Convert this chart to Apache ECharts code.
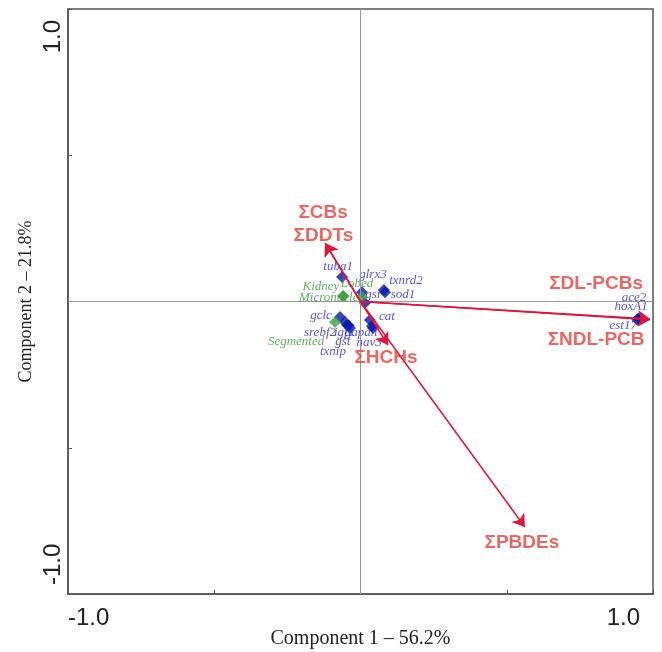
<!DOCTYPE html>
<html>
<head>
<meta charset="utf-8">
<script src="https://cdn.jsdelivr.net/npm/echarts@6/dist/echarts.min.js"></script>
<style>html,body{margin:0;padding:0;background:#fff}#c{width:662px;height:652px}</style>
</head>
<body>
<div id="c"></div>
<script>
// ---- data ----
const geneNames = ['tuba1','glrx3','gsi','txnrd2','sod1','gclc','srebf2','igf1','gst','txnip','cat','gapdh','nav3','ace2','hoxA1','est17'];
const geneX = [-0.063, 0.005, 0.015, 0.080, 0.084, -0.070, -0.053, -0.046, -0.040, -0.036, 0.032, 0.039, 0.043, 0.952, 0.949, 0.946];
const geneY = [0.084, 0.032, -0.005, 0.039, 0.032, -0.053, -0.070, -0.080, -0.082, -0.091, -0.063, -0.084, -0.091, -0.060, -0.059, -0.062];

const tissueNames = ['Kidney','Micronuclei','Lobed','Segmented'];
const tissueX = [-0.060, -0.058, 0.005, -0.087];
const tissueY = [0.019, 0.018, 0.015, -0.070];

const loadingNames = ['ΣCBs','ΣDDTs','ΣDL-PCBs','ΣNDL-PCB','ΣHCHs','ΣPBDEs'];
const loadingX = [-0.121, -0.120, 0.990, 0.990, 0.094, 0.562];
const loadingY = [0.200, 0.198, -0.060, -0.062, -0.149, -0.771];

const axisTickLabels = ['-1.0', '1.0'];
const xAxisTitle = 'Component 1 – 56.2%';
const yAxisTitle = 'Component 2 – 21.8%';

// ---- label layout (offsets in px, separate from data) ----
const labelOffsets = {
  tuba1:[-4,-10], glrx3:[11,-18], gsi:[8,-8], txnrd2:[22,-10], sod1:[18,2],
  gclc:[-19,-1], srebf2:[-25,11], igf1:[-3,8], gst:[-6,16], txnip:[-17,23],
  cat:[17,-3], gapdh:[-11,7], nav3:[-4,14], ace2:[-5,-21], hoxA1:[-7,-12], est17:[-14,6],
  Kidney:[-22,-9], Micronuclei:[-13,1], Lobed:[-5,-14], Segmented:[-39,20],
  'ΣCBs':[-2,-30], 'ΣDDTs':[-2,-8], 'ΣDL-PCBs':[-54,-35], 'ΣNDL-PCB':[-54,20], 'ΣHCHs':[-2,13], 'ΣPBDEs':[-3,16]
};

function pts(names, xs, ys) {
  return names.map((n, i) => ({
    name: n, value: [xs[i], ys[i]],
    label: { offset: labelOffsets[n] || [0, 0] }
  }));
}

const chart = echarts.init(document.getElementById('c'), null, { renderer: 'canvas' });

const axisCommon = {
  type: 'value', min: -1, max: 1, interval: 0.5,
  nameLocation: 'middle', nameMoveOverlap: false,
  axisLine: { show: true, onZero: false, lineStyle: { color: '#555', width: 1.5 } },
  axisTick: { show: true, inside: true, length: 4, lineStyle: { color: '#555', width: 1 } },
  splitLine: { show: false },
  axisLabel: {
    fontFamily: 'Liberation Sans', fontSize: 24, color: '#222',
    formatter: v => (v === -1 ? axisTickLabels[0] : (v === 1 ? axisTickLabels[1] : '')),
    alignMinLabel: 'left', alignMaxLabel: 'right'
  }
};

const labelFont = { fontFamily: 'Liberation Serif', fontStyle: 'italic', fontSize: 13 };

chart.setOption({
  animation: false,
  backgroundColor: '#fff',
  grid: { left: 68, top: 9, width: 585, height: 585, show: true, borderColor: '#555', borderWidth: 1.5,
          containLabel: false, outerBoundsMode: 'none' },
  xAxis: Object.assign({}, axisCommon, {
    name: xAxisTitle, nameGap: 35,
    nameTextStyle: { fontFamily: 'Liberation Serif', fontSize: 20, color: '#222' },
    axisLabel: Object.assign({}, axisCommon.axisLabel, { margin: 12, padding: [0, 13, 0, 0] })
  }),
  yAxis: Object.assign({}, axisCommon, {
    name: yAxisTitle, nameGap: 33,
    nameTextStyle: { fontFamily: 'Liberation Serif', fontSize: 18, color: '#222' },
    axisLabel: Object.assign({}, axisCommon.axisLabel, { rotate: 90, margin: 3, padding: [0, 11, 0, 9] })
  }),
  series: [
    {
      type: 'scatter', data: [], z: 1, silent: true,
      markLine: {
        silent: true, symbol: 'none', label: { show: false },
        lineStyle: { color: '#999', type: 'solid', width: 1 },
        data: [{ xAxis: 0 }, { yAxis: 0 }]
      }
    },
    {
      type: 'scatter', name: 'genes', z: 3, symbol: 'diamond', symbolSize: 12,
      itemStyle: { color: '#0a1aa8' },
      label: Object.assign({ show: true, position: 'inside', align: 'center', verticalAlign: 'middle', color: '#2a2ad0', formatter: '{b}' }, labelFont),
      data: pts(geneNames, geneX, geneY)
    },
    {
      type: 'scatter', name: 'tissues', z: 4, symbol: 'diamond', symbolSize: 12,
      itemStyle: { color: '#3fa03f' },
      label: Object.assign({ show: true, position: 'inside', align: 'center', verticalAlign: 'middle', color: '#3f9a3f', formatter: '{b}' }, labelFont),
      data: pts(tissueNames, tissueX, tissueY)
    },
    {
      type: 'lines', coordinateSystem: 'cartesian2d', z: 5, silent: true,
      symbol: ['none', 'arrow'], symbolSize: 12,
      lineStyle: { color: '#e0143c', width: 1.5, opacity: 1 },
      data: loadingNames.map((n, i) => ({ coords: [[0, 0], [loadingX[i], loadingY[i]]] }))
    },
    {
      type: 'scatter', name: 'loadingLabels', z: 6, symbolSize: 1, silent: true,
      itemStyle: { color: 'rgba(0,0,0,0)' },
      label: { show: true, position: 'inside', align: 'center', verticalAlign: 'middle', formatter: '{b}',
               fontFamily: 'Liberation Sans', fontWeight: 'bold', fontSize: 19, color: '#e8403a' },
      data: pts(loadingNames, loadingX, loadingY)
    }
  ]
});
</script>
</body>
</html>
